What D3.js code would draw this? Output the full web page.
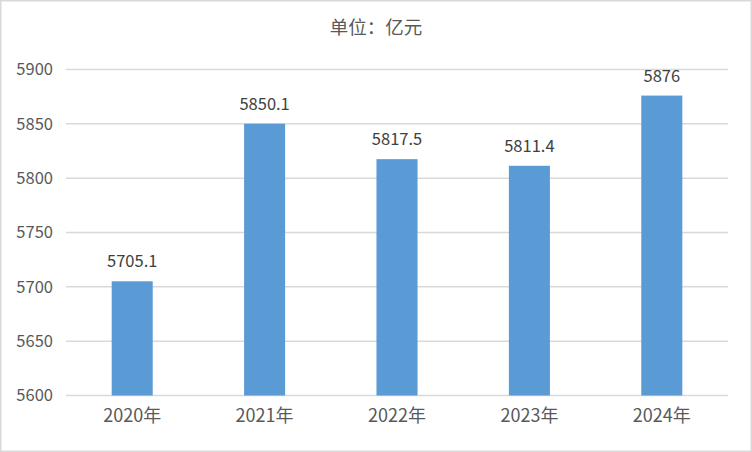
<!DOCTYPE html>
<html><head><meta charset="utf-8">
<script src="https://cdn.jsdelivr.net/npm/d3@7"></script>
<style>body{margin:0;background:#fff}svg{display:block}</style>
</head><body>
<script>
const categories = ["2020年","2021年","2022年","2023年","2024年"];
const values = [5705.1, 5850.1, 5817.5, 5811.4, 5876];
const valueLabels = ["5705.1","5850.1","5817.5","5811.4","5876"];
const yTicks = [5600,5650,5700,5750,5800,5850,5900];
const title = "单位：亿元";

const W=752,H=452;
const font = "'Noto Sans CJK SC','Noto Sans',sans-serif";
const svg = d3.select("body").append("svg").attr("width",W).attr("height",H);
svg.append("rect").attr("x",0.75).attr("y",0.75).attr("width",W-1.5).attr("height",H-1.5)
  .attr("fill","#fff").attr("stroke","#d9d9d9").attr("stroke-width",1.5);

const x = d3.scaleBand().domain(categories).range([66,728]).paddingInner(0.69).paddingOuter(0.345);
const y = d3.scaleLinear().domain([5600,5900]).range([395.5,69.5]);

const grid = svg.append("g");
grid.selectAll("line").data(yTicks).join("line")
  .attr("x1",66).attr("x2",728).attr("y1",d=>y(d)).attr("y2",d=>y(d))
  .attr("stroke","#d9d9d9").attr("stroke-width",1.5);

const yAxis = svg.append("g").attr("transform","translate(66,0)")
  .call(d3.axisLeft(y).tickValues(yTicks).tickSize(0).tickPadding(13).tickFormat(d3.format("d")));
yAxis.select(".domain").remove();
yAxis.selectAll("text").attr("font-family",font).attr("font-size",16.5).attr("fill","#595959");

svg.selectAll("rect.bar").data(values).join("rect").attr("class","bar")
  .attr("x",(d,i)=>x(categories[i])).attr("width",x.bandwidth())
  .attr("y",d=>y(d)).attr("height",d=>y(5600)-y(d)).attr("fill","#5b9bd5");

svg.selectAll("text.val").data(values).join("text").attr("class","val")
  .attr("x",(d,i)=>x(categories[i])+x.bandwidth()/2).attr("y",d=>y(d)-14)
  .attr("text-anchor","middle").attr("font-family",font).attr("font-size",16.5).attr("fill","#404040")
  .text((d,i)=>valueLabels[i]);

const xAxis = svg.append("g").attr("transform","translate(0,395.5)")
  .call(d3.axisBottom(x).tickSize(0).tickPadding(14));
xAxis.select(".domain").remove();
xAxis.selectAll("text").attr("font-family",font).attr("font-size",18).attr("fill","#595959");

svg.append("text").attr("x",376).attr("y",34).attr("text-anchor","middle")
  .attr("font-family",font).attr("font-size",18.5).attr("fill","#595959").text(title);
</script>
</body></html>
